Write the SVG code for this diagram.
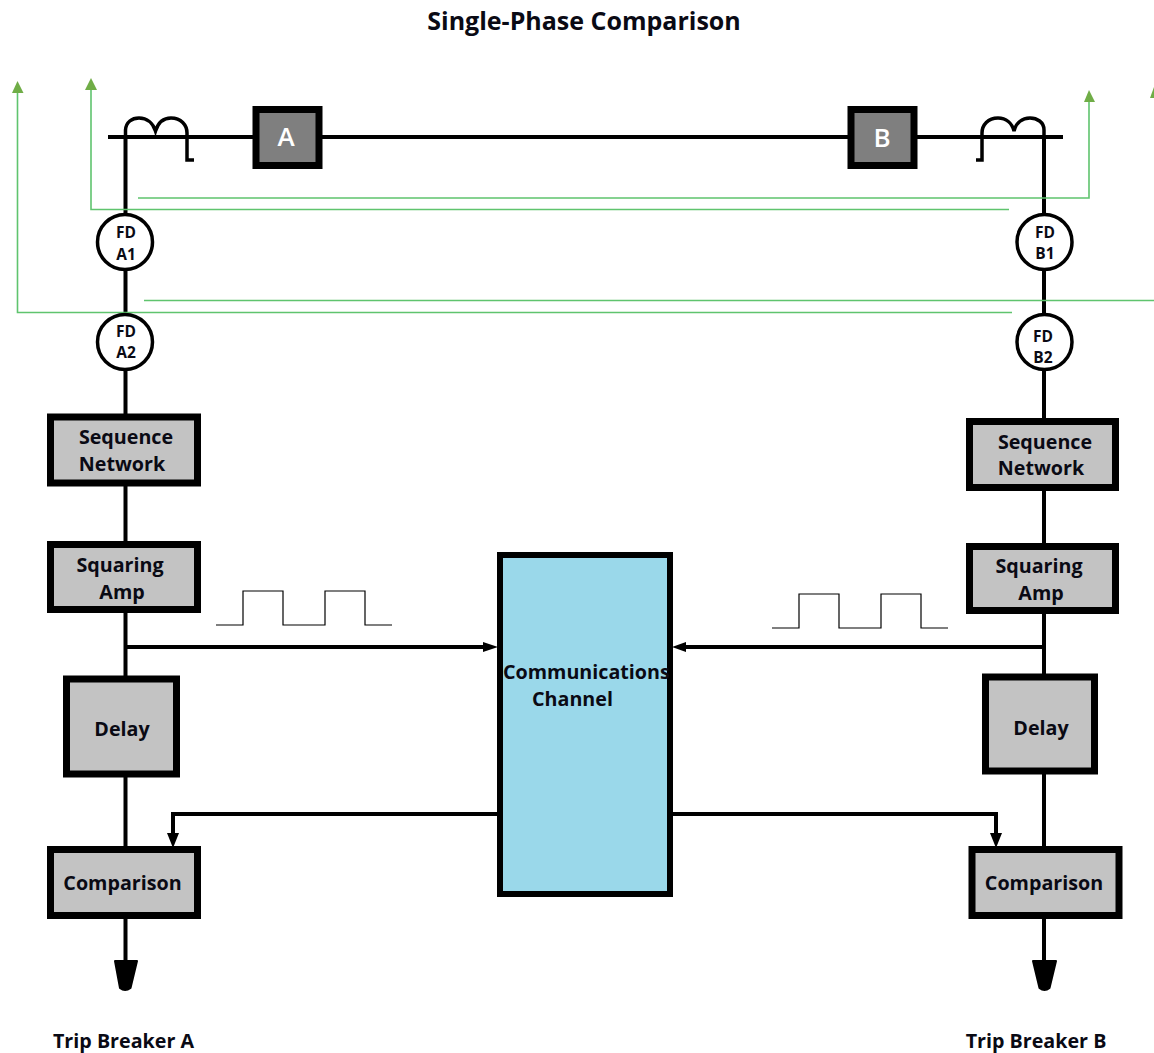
<svg xmlns="http://www.w3.org/2000/svg" width="1154" height="1053" viewBox="0 0 1154 1053">
<style>
text{font-family:"Open Sans","Noto Sans","Liberation Sans",sans-serif;font-weight:700;fill:#0a0a14;font-size:19.700px}
.c{text-anchor:middle}
.box{fill:#c3c3c3;stroke:#000;stroke-width:7}
.brk{fill:#7f7f7f;stroke:#000;stroke-width:7}
.fd{fill:#fff;stroke:#000;stroke-width:3.500}
.w{fill:none;stroke:#000;stroke-width:4}
.t{fill:none;stroke:#000;stroke-width:3.500}
.g{fill:none;stroke:#5fc46e;stroke-width:1.600}
.p{fill:none;stroke:#000;stroke-width:1.200}
.s{font-size:15.500px}
.gh{fill:#70ad47}
</style>
<rect width="1154" height="1053" fill="#fff"/>
<g id="connectors">
<path class="w" d="M108 137H253M322 137H848M917 137H1063"/>
<path class="w" d="M125.500 137V213M125.500 271V313M125.500 371V415M125.500 485V542M125.500 612V677M125.500 776V848M125.500 917V965"/>
<path class="w" d="M1044 137V213M1044 271V313M1044 371V419M1044 489V544M1044 613V675M1044 773V848M1044 917V965"/>
<path class="t" d="M125.500 137V130C126 122 132 118 139 118C147 118 153 123 155.500 131C158 123 163 118 171 118C181 118 187 125 187 133V160H194"/>
<path class="t" d="M1044 137V130C1044 122 1037 118 1030 118C1022 118 1016 123 1014 131C1012 123 1006 118 998 118C988 118 982 125 982 133V160H976"/>
<path class="g" d="M138 198H1089V100"/>
<path class="g" d="M1009 209.500H91V88"/>
<path class="g" d="M144 300.500H1154"/>
<path class="g" d="M1012 312.500H17.500V92"/>
<polygon class="gh" points="91,78 85,90 97,90"/>
<polygon class="gh" points="17.500,81 12,93 23.500,93"/>
<polygon class="gh" points="1089,90 1084,102 1095,102"/>
<polygon class="gh" points="1154,87 1150,98 1154,98"/>
<path class="w" d="M125.500 647H488"/>
<polygon points="498,647 483,642 483,652"/>
<path class="w" d="M1044 647H684"/>
<polygon points="672,647 686,642 686,652"/>
<path class="w" d="M498 814H173V838"/>
<polygon points="173,848 167,833 179,833"/>
<path class="w" d="M672 814H996V838"/>
<polygon points="996,848 990,833 1002,833"/>
<path class="p" d="M216 625H243V591H283V625H325V591H365V625H392"/>
<path class="p" d="M772 628H799V594H839V628H881V594H921V628H948"/>
<path d="M115 961H137L130.500 988Q125 992 120 988Z" stroke="#000" stroke-width="2" stroke-linejoin="round"/>
<path d="M1033 961H1056L1049.500 988Q1044.500 992 1039.500 988Z" stroke="#000" stroke-width="2" stroke-linejoin="round"/>
</g>
<text class="c" x="584" y="30" style="font-size:25px">Single-Phase Comparison</text>
<g id="breaker-a"><rect class="brk" x="256" y="109.500" width="63" height="56"/><text class="c" x="286" y="146" style="font-size:26px;fill:#fff;font-weight:600">A</text></g>
<g id="breaker-b"><rect class="brk" x="851" y="109.500" width="63" height="56"/><text class="c" x="882" y="147" style="font-size:26px;fill:#fff;font-weight:600">B</text></g>
<g id="fd-a1"><circle class="fd" cx="125" cy="242" r="27.500"/><text class="c s" x="126" y="238">FD</text><text class="c s" x="126" y="260">A1</text></g>
<g id="fd-a2"><circle class="fd" cx="125" cy="342" r="27.500"/><text class="c s" x="126" y="337">FD</text><text class="c s" x="126" y="358">A2</text></g>
<g id="fd-b1"><circle class="fd" cx="1044.500" cy="242" r="27.500"/><text class="c s" x="1045" y="238">FD</text><text class="c s" x="1045" y="259">B1</text></g>
<g id="fd-b2"><circle class="fd" cx="1044.500" cy="342" r="27.500"/><text class="c s" x="1043" y="342">FD</text><text class="c s" x="1043" y="363">B2</text></g>
<g id="seq-a"><rect class="box" x="50.500" y="417" width="147" height="66"/><text class="c" x="126" y="444">Sequence</text><text class="c" x="122" y="471">Network</text></g>
<g id="seq-b"><rect class="box" x="969.500" y="421.500" width="146" height="66"/><text class="c" x="1045" y="449">Sequence</text><text class="c" x="1041" y="475">Network</text></g>
<g id="sq-a"><rect class="box" x="50.500" y="544.500" width="147" height="65"/><text class="c" x="120" y="572">Squaring</text><text class="c" x="122" y="599">Amp</text></g>
<g id="sq-b"><rect class="box" x="969.500" y="546.500" width="146" height="64"/><text class="c" x="1039" y="573">Squaring</text><text class="c" x="1041" y="600">Amp</text></g>
<g id="delay-a"><rect class="box" x="66.500" y="679" width="110" height="95"/><text class="c" x="122" y="736">Delay</text></g>
<g id="delay-b"><rect class="box" x="985.500" y="677" width="109" height="94"/><text class="c" x="1041" y="735">Delay</text></g>
<g id="cmp-a"><rect class="box" x="50.500" y="849.500" width="147" height="66"/><text class="c" x="122.500" y="890">Comparison</text></g>
<g id="cmp-b"><rect class="box" x="972" y="849.500" width="147" height="66"/><text class="c" x="1044" y="890">Comparison</text></g>
<g id="channel"><rect x="500" y="555" width="170" height="339" fill="#9ad8ea" stroke="#000" stroke-width="6"/><text x="503" y="679">Communications</text><text x="532" y="706">Channel</text></g>
<text class="c" x="123.500" y="1048">Trip Breaker A</text>
<text class="c" x="1036" y="1048">Trip Breaker B</text>
</svg>
